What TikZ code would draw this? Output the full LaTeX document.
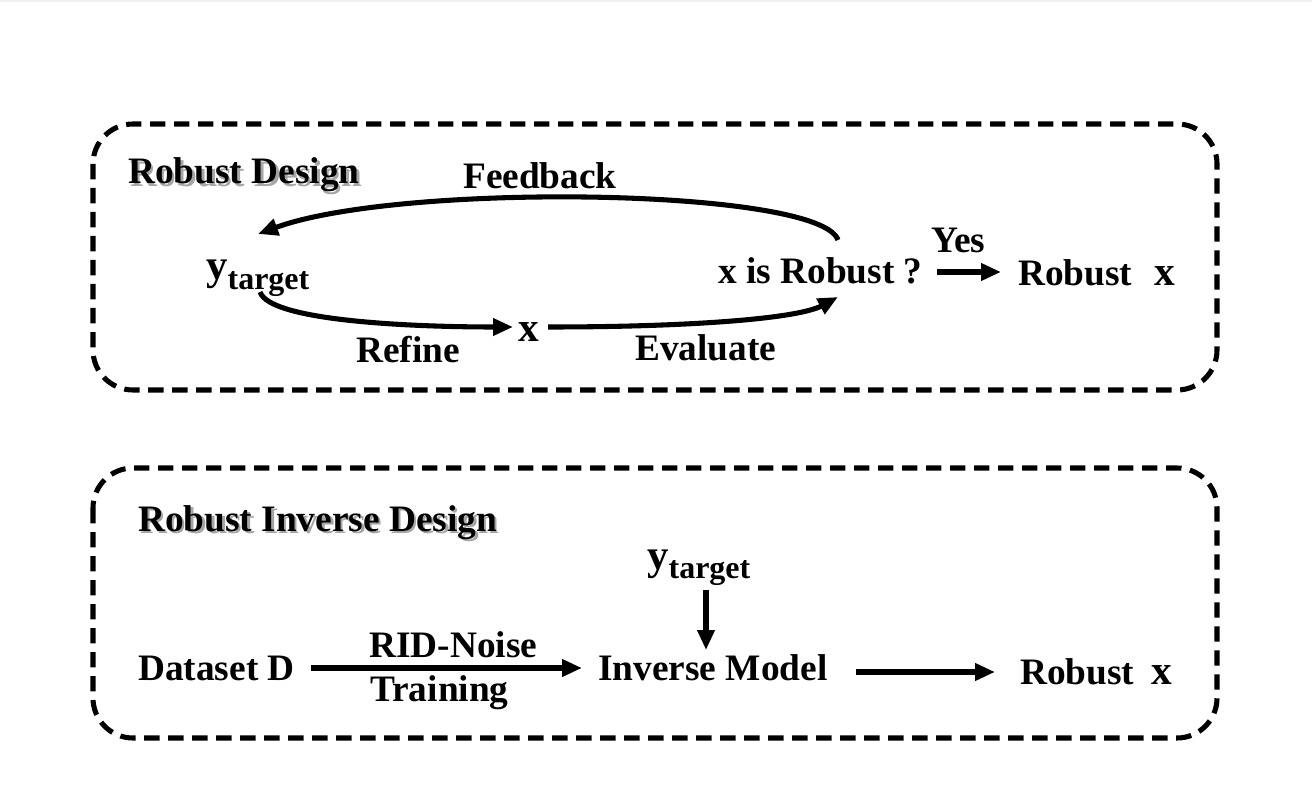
\documentclass[tikz,border=0pt]{standalone}
\usepackage{fontspec}
\setmainfont{Liberation Serif}
\usetikzlibrary{arrows.meta,calc}
\begin{document}
\begin{tikzpicture}[x=0.75pt,y=-0.75pt,
  txt/.style={inner sep=0pt,anchor=base west,font=\fontsize{28}{30}\selectfont\bfseries},
  boxline/.style={line width=3.8pt,dash pattern=on 11.5pt off 6.5pt,rounded corners=30pt},
  arr/.style={line width=3.8pt,-{Triangle[length=15pt,width=12.5pt]}},
]
\useasboundingbox (0,0) rectangle (1312,798);
\fill[black!6] (0,0) rectangle (1312,2);
\newcommand{\ytgt}{{\fontsize{32}{32}\selectfont y}\raisebox{-0.55ex}{\fontsize{24}{24}\selectfont target}}
\newcommand{\bigx}{{\fontsize{31}{31}\selectfont x}}
\newcommand{\shadowed}[1]{\makebox[0pt][l]{\raisebox{-1.8pt}{\hspace{1.8pt}\textcolor{black!35}{#1}}}#1}
% boxes
\draw[boxline] (93,124) rectangle (1217,390);
\draw[boxline] (93,468) rectangle (1217,738);
% ---------- top panel ----------
\node[txt] (t1) at (128,184) {\shadowed{Robust Design}};
\node[txt] (fb) at (463,189) {Feedback};
\node[txt] (ytop) at (206,280) {\ytgt};
\node[txt] (xmid) at (518,341) {\bigx};
\node[txt] (refine) at (356,362) {Refine};
\node[txt] (evaluate) at (635,360) {Evaluate};
\node[txt] (xrob) at (718,284) {x is Robust ?};
\node[txt] (yes) at (931,253) {Yes};
\node[txt] (rob1) at (1018,286) {Robust\hspace{0.6em}\bigx};
% arrows
\draw[arr] ([shift={(120,-44)}]xrob.base west) .. controls ([shift={(102,-96)}]xrob.base west) and ([shift={(-318,-102)}]xrob.base west) .. ([shift={(52,-46)}]ytop.base west);
\draw[arr] ([shift={(54,12)}]ytop.base west) .. controls ([shift={(64,42)}]ytop.base west) and ([shift={(214,47)}]ytop.base west) .. ([shift={(-5,-14)}]xmid.base west);
\draw[arr] ([shift={(30,-14)}]xmid.base west) .. controls ([shift={(180,-14)}]xmid.base west) and ([shift={(281,-23)}]xmid.base west) .. ([shift={(120,13)}]xrob.base west);
\draw[arr] ([shift={(14,-12)}]xrob.base east) -- ([shift={(-17,-14)}]rob1.base west);
% ---------- bottom panel ----------
\node[txt] (t2) at (138,531) {\shadowed{Robust Inverse Design}};
\node[txt] (ybot) at (647,569) {\ytgt};
\node[txt] (data) at (138,680) {Dataset D};
\node[txt] (rid) at (369,657) {RID-Noise};
\node[txt] (train) at (370,701) {Training};
\node[txt] (inv) at (598,680) {Inverse Model};
\node[txt] (rob2) at (1020,684) {Robust\hspace{0.45em}\bigx};
\draw[arr] ([shift={(59,21)}]ybot.base west) -- ([shift={(108,-30)}]inv.base west);
\draw[arr] ([shift={(16,-12)}]data.base east) -- ([shift={(-16,-12)}]inv.base west);
\draw[arr] ([shift={(28,-8)}]inv.base east) -- ([shift={(-25,-12)}]rob2.base west);
\end{tikzpicture}
\end{document}
